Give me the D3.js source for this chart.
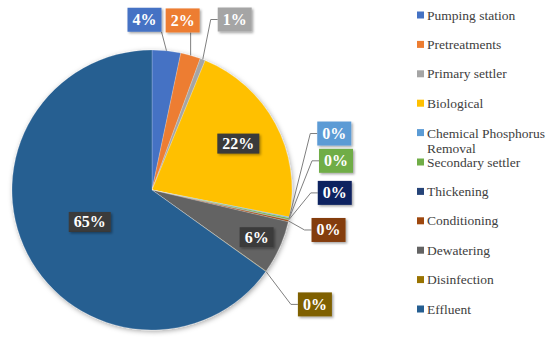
<!DOCTYPE html>
<html>
<head>
<meta charset="utf-8">
<script src="https://cdn.jsdelivr.net/npm/d3@7"></script>
<style>
  body { margin: 0; background: #fff; }
</style>
</head>
<body>
<div id="main"></div>
<script>

// data
var categories = ["Pumping station", "Pretreatments", "Primary settler", "Biological",
    "Chemical Phosphorus Removal", "Secondary settler", "Thickening", "Conditioning",
    "Dewatering", "Disinfection", "Effluent"];
var values = [3.3, 2.3, 0.6, 21.9, 0.1, 0.2, 0.05, 0.2, 6.2, 0.05, 65.1];
var labels = ["4%", "2%", "1%", "22%", "0%", "0%", "0%", "0%", "6%", "0%", "65%"];
var colors = ["#4472C4", "#ED7D31", "#A5A5A5", "#FFC000", "#5B9BD5", "#70AD47",
    "#264478", "#9E480E", "#636363", "#997300", "#255E91"];
var labelColors = ["#4472C4", "#ED7D31", "#A5A5A5", "#3a3a3a", "#5B9BD5", "#70AD47",
    "#0f2460", "#843C0C", "#3a3a3a", "#7F6000", "#3a3a3a"];

// label layout: inside labels by radius fraction, outer labels by offset from arc edge
var labelLayout = [
    {dx: -22, dy: -31}, {dx: -8, dy: -35}, {dx: 32, dy: -40},
    {inside: 0.70},
    {dx: 45, dy: -84}, {dx: 47, dy: -58}, {dx: 46, dy: -27}, {dx: 40, dy: 9},
    {inside: 0.82},
    {dx: 49, dy: 33},
    {inside: 0.50}
];

var serif = "'Liberation Serif', 'DejaVu Serif', serif";

// dimensions
var svg_width = 550,
    svg_height = 339;
var cx = 152, cy = 190, radius = 140;

var svg = d3.select("#main").append("svg")
    .attr("width", svg_width)
    .attr("height", svg_height)
    .attr("font-family", serif);

var defs = svg.append("defs");
var f = defs.append("filter").attr("id", "shadow")
    .attr("x", "-20%").attr("y", "-20%").attr("width", "140%").attr("height", "140%");
f.append("feDropShadow").attr("dx", 1).attr("dy", 1.5).attr("stdDeviation", 2.5)
    .attr("flood-color", "#000").attr("flood-opacity", 0.35);
var f2 = defs.append("filter").attr("id", "boxshadow")
    .attr("x", "-30%").attr("y", "-30%").attr("width", "160%").attr("height", "160%");
f2.append("feDropShadow").attr("dx", 1.5).attr("dy", 1.5).attr("stdDeviation", 1.2)
    .attr("flood-color", "#000").attr("flood-opacity", 0.35);

var data = categories.map(function(c, i) {
    return {name: c, value: values[i], label: labels[i], color: colors[i],
        labelColor: labelColors[i], layout: labelLayout[i]};
});

var pie = d3.pie().sort(null).value(function(d) { return d.value; });
var arcs = pie(data);
var arc = d3.arc().innerRadius(0).outerRadius(radius);

var g = svg.append("g").attr("transform", "translate(" + cx + "," + cy + ")");

g.append("g").attr("filter", "url(#shadow)")
    .selectAll("path")
    .data(arcs)
    .enter()
    .append("path")
    .attr("d", arc)
    .attr("fill", function(d) { return d.data.color; })
    .attr("stroke", "#fff")
    .attr("stroke-opacity", 0.35)
    .attr("stroke-width", 0.6);

/** labels **/
function edgePoint(d) {
    var a = (d.startAngle + d.endAngle) / 2;
    return [Math.sin(a) * radius, -Math.cos(a) * radius];
}

var lab = g.append("g");
arcs.forEach(function(d) {
    var L = d.data.layout, pos, anchor = null;
    var a = (d.startAngle + d.endAngle) / 2;
    if (L.inside) {
        pos = [Math.sin(a) * radius * L.inside, -Math.cos(a) * radius * L.inside];
    } else {
        anchor = edgePoint(d);
        pos = [anchor[0] + L.dx, anchor[1] + L.dy];
    }
    var grp = lab.append("g");
    var rect = grp.append("rect");
    var t = grp.append("text")
        .attr("x", pos[0]).attr("y", pos[1])
        .attr("text-anchor", "middle")
        .attr("dominant-baseline", "central")
        .attr("fill", "#fff")
        .attr("font-family", serif)
        .attr("font-size", "16px")
        .attr("font-weight", "bold")
        .text(d.data.label);
    var bb = t.node().getBBox();
    var padX = 5, h = L.inside ? 20 : 24;
    var box = {x: bb.x - padX, y: pos[1] - h / 2, w: bb.width + padX * 2, h: h};
    rect.attr("x", box.x).attr("y", box.y).attr("width", box.w).attr("height", box.h)
        .attr("fill", d.data.labelColor)
        .attr("filter", "url(#boxshadow)");

    if (anchor) {
        var pts;
        if (anchor[0] < box.x - 4) {
            pts = [anchor, [box.x - 7, pos[1]], [box.x, pos[1]]];
        } else {
            var lx = Math.max(box.x, Math.min(box.x + box.w, anchor[0]));
            pts = [anchor, [lx, box.y + box.h]];
        }
        lab.insert("path", ":first-child")
            .attr("d", d3.line()(pts))
            .attr("fill", "none")
            .attr("stroke", "#7f7f7f")
            .attr("stroke-width", 1);
    }
});

/** legend **/
var legendY = d3.scalePoint()
    .domain(categories)
    .range([15, 309]);

var legend = svg.append("g").attr("id", "legend");
var items = legend.selectAll(".item")
    .data(data)
    .enter()
    .append("g")
    .attr("class", "item")
    .attr("transform", function(d) { return "translate(417," + legendY(d.name) + ")"; });

items.append("rect")
    .attr("x", 0).attr("y", -3.5)
    .attr("width", 7).attr("height", 7)
    .attr("fill", function(d) { return d.color; });

items.append("text")
    .attr("x", 10)
    .attr("y", 0)
    .attr("dominant-baseline", "central")
    .attr("font-family", serif)
    .attr("font-size", "13.5px")
    .attr("fill", "#404040")
    .each(function(d) {
        var el = d3.select(this);
        if (d.name === "Chemical Phosphorus Removal") {
            el.append("tspan").attr("x", 10).text("Chemical Phosphorus");
            el.append("tspan").attr("x", 10).attr("dy", 15).text("Removal");
        } else {
            el.text(d.name);
        }
    });

</script>
</body>
</html>
